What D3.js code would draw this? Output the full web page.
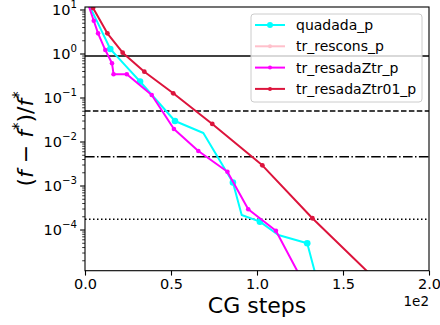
<!DOCTYPE html>
<html>
<head>
<meta charset="utf-8">
<script src="https://cdn.jsdelivr.net/npm/d3@7"></script>
<style>
  body { margin: 0; background: #fff; }
  svg { display: block; font-family: "DejaVu Sans", sans-serif; }
</style>
</head>
<body>
<svg id="chart" width="440" height="325"></svg>
<script>
// relative error vs. CG steps for each solver
var seriesNames = ["quadada_p", "tr_rescons_p", "tr_resadaZtr_p", "tr_resadaZtr01_p"];
var seriesColors = ["#00ffff", "#ffc0cb", "#ff00ff", "#dc143c"];

var quadadaSteps = [0, 7, 14.7, 23, 32, 42, 52.3, 68.8, 86, 91.1, 101.7, 112.4, 129.2, 136];
var quadadaErr = [20, 5.5, 1.3, 0.574, 0.237, 0.0855, 0.030, 0.016, 0.0012, 2.19e-4, 1.55e-4, 7.7e-5, 5.0e-5, 5e-6];

var resconsSteps = [];
var resconsErr = [];

var resadaSteps = [0, 5.1, 7.6, 11.8, 15.7, 16.6, 24.3, 38.8, 51.7, 65.9, 82.8, 94.9, 111.0, 128];
var resadaErr = [22, 5.7, 2.95, 1.23, 0.615, 0.348, 0.348, 0.117, 0.0197, 0.00624, 0.00211, 2.97e-4, 9.6e-5, 5.4e-6];

var resada01Steps = [0, 4.7, 13.0, 21.9, 34.5, 51.3, 74.0, 103.1, 132.2, 190];
var resada01Err = [35, 11.1, 2.95, 1.07, 0.396, 0.128, 0.0257, 0.00295, 1.85e-4, 1.2e-6];

// reference thresholds (horizontal lines)
var refLevels = [0.90, 0.0507, 0.00464, 1.75e-4];
var refDash = ["", "5.5,2.4", "9.6,2.4,1.5,2.4", "1.5,2.5"];

var xTicks = [0, 50, 100, 150, 200];
var yTicks = [1e1, 1e0, 1e-1, 1e-2, 1e-3, 1e-4];

var seriesData = [
    { steps: quadadaSteps, err: quadadaErr, r: 3.3, every: 2 },
    { steps: resconsSteps, err: resconsErr, r: 2.2, every: 1 },
    { steps: resadaSteps, err: resadaErr, r: 2.3, every: 1 },
    { steps: resada01Steps, err: resada01Err, r: 2.4, every: 1 }
];

var svg = d3.select("#chart");
var margin = { top: 7, right: 11, bottom: 54.3, left: 85 };
var width = +svg.attr("width") - margin.left - margin.right;
var height = +svg.attr("height") - margin.top - margin.bottom;

var xScale = d3.scaleLinear().domain([0, 200]).range([0, width]);
var yScale = d3.scaleLog().domain([1.19e-5, 11.7]).range([height, 0]);

var g = svg.append("g")
    .attr("transform", "translate(" + margin.left + "," + margin.top + ")");

g.append("defs").append("clipPath").attr("id", "plotclip")
    .append("rect").attr("width", width).attr("height", height);

// reference lines
g.selectAll(".ref")
    .data(refLevels)
    .enter().append("line")
    .attr("class", "ref")
    .attr("x1", 0).attr("x2", width)
    .attr("y1", (d) => yScale(d)).attr("y2", (d) => yScale(d))
    .attr("stroke", "#000")
    .attr("stroke-width", 1.5)
    .attr("stroke-dasharray", (d, i) => refDash[i] || null);

var plotArea = g.append("g").attr("clip-path", "url(#plotclip)");

var line = d3.line()
    .x((d) => xScale(d[0]))
    .y((d) => yScale(d[1]));

seriesData.forEach((s, i) => {
    var pts = s.steps.map((x, j) => [x, s.err[j]]);
    if (pts.length === 0) return;
    plotArea.append("path")
        .datum(pts)
        .attr("fill", "none")
        .attr("stroke", seriesColors[i])
        .attr("stroke-width", 2)
        .attr("stroke-linejoin", "round")
        .attr("d", line);
    plotArea.selectAll(".m" + i)
        .data(pts.filter((d, j) => j % s.every === 0))
        .enter().append("circle")
        .attr("class", "m" + i)
        .attr("cx", (d) => xScale(d[0]))
        .attr("cy", (d) => yScale(d[1]))
        .attr("r", s.r)
        .attr("fill", seriesColors[i]);
});

// axes
var xAxis = d3.axisBottom(xScale)
    .tickValues(xTicks)
    .tickFormat((d) => (d / 100).toFixed(1))
    .tickSizeInner(4.9)
    .tickSizeOuter(0)
    .tickPadding(3.5);

var xg = g.append("g")
    .attr("transform", "translate(0," + height + ")")
    .call(xAxis);
xg.select(".domain").remove();
xg.selectAll("text").attr("font-size", 14.5).attr("fill", "#000")
    .attr("font-family", "DejaVu Sans");
xg.selectAll("line").attr("stroke", "#000").attr("stroke-width", 1.1);

// y axis: major + minor log ticks
var minorTicks = [];
for (var e = -5; e <= 1; e++) {
    for (var k = 2; k <= 9; k++) {
        var v = k * Math.pow(10, e);
        if (v >= 1.19e-5 && v <= 11.7) minorTicks.push(v);
    }
}
g.selectAll(".ymin")
    .data(minorTicks)
    .enter().append("line")
    .attr("class", "ymin")
    .attr("x1", -2.8).attr("x2", 0)
    .attr("y1", (d) => yScale(d)).attr("y2", (d) => yScale(d))
    .attr("stroke", "#000").attr("stroke-width", 0.8);

g.selectAll(".ymaj")
    .data(yTicks)
    .enter().append("line")
    .attr("class", "ymaj")
    .attr("x1", -4.9).attr("x2", 0)
    .attr("y1", (d) => yScale(d)).attr("y2", (d) => yScale(d))
    .attr("stroke", "#000").attr("stroke-width", 1.1);

var ylab = g.selectAll(".ylab")
    .data(yTicks)
    .enter().append("text")
    .attr("class", "ylab")
    .attr("x", -8)
    .attr("y", (d) => yScale(d) + 5)
    .attr("text-anchor", "end")
    .attr("font-size", 14.5)
    .attr("fill", "#000");
ylab.append("tspan").text("10");
ylab.append("tspan")
    .attr("font-size", 10.2)
    .attr("dy", -7)
    .text((d) => {
        var p = Math.round(Math.log10(d));
        return p < 0 ? "\u2212" + (-p) : String(p);
    });

// frame
g.append("rect")
    .attr("width", width).attr("height", height)
    .attr("fill", "none").attr("stroke", "#000").attr("stroke-width", 1.1);

// offset text and axis labels
svg.append("text")
    .attr("x", margin.left + width)
    .attr("y", 306)
    .attr("text-anchor", "end")
    .attr("font-size", 13.5)
    .text("1e2");

svg.append("text")
    .attr("x", margin.left + width / 2)
    .attr("y", 312.5)
    .attr("text-anchor", "middle")
    .attr("font-size", 22)
    .text("CG steps");

var yl = svg.append("text")
    .attr("transform", "translate(33," + (margin.top + height / 2) + ") rotate(-90)")
    .attr("text-anchor", "middle")
    .attr("font-size", 22);
yl.append("tspan").text("(");
yl.append("tspan").attr("font-style", "italic").text("f");
yl.append("tspan").text(" \u2212 ");
yl.append("tspan").attr("font-style", "italic").text("f");
yl.append("tspan").attr("font-size", 15).attr("dy", -9).text("*");
yl.append("tspan").attr("dy", 9).text(")/");
yl.append("tspan").attr("font-style", "italic").text("f");
yl.append("tspan").attr("font-size", 15).attr("dy", -9).text("*");

// legend
var legend = g.append("g").attr("transform", "translate(" + (width - 178) + ",7)");
legend.append("rect")
    .attr("width", 171).attr("height", 88)
    .attr("rx", 3)
    .attr("fill", "#fff").attr("fill-opacity", 0.8)
    .attr("stroke", "#cccccc").attr("stroke-width", 1);

var rows = legend.selectAll(".row")
    .data(seriesNames)
    .enter().append("g")
    .attr("class", "row")
    .attr("transform", (d, i) => "translate(0," + (11 + i * 21.3) + ")");
rows.append("line")
    .attr("x1", 4).attr("x2", 34)
    .attr("stroke", (d, i) => seriesColors[i])
    .attr("stroke-width", 2);
rows.append("circle")
    .attr("cx", 19)
    .attr("r", (d, i) => i === 0 ? 3 : 2)
    .attr("fill", (d, i) => seriesColors[i]);
rows.append("text")
    .attr("x", 45)
    .attr("y", 5)
    .attr("font-size", 14)
    .attr("fill", "#000")
    .text((d) => d);
</script>
</body>
</html>
